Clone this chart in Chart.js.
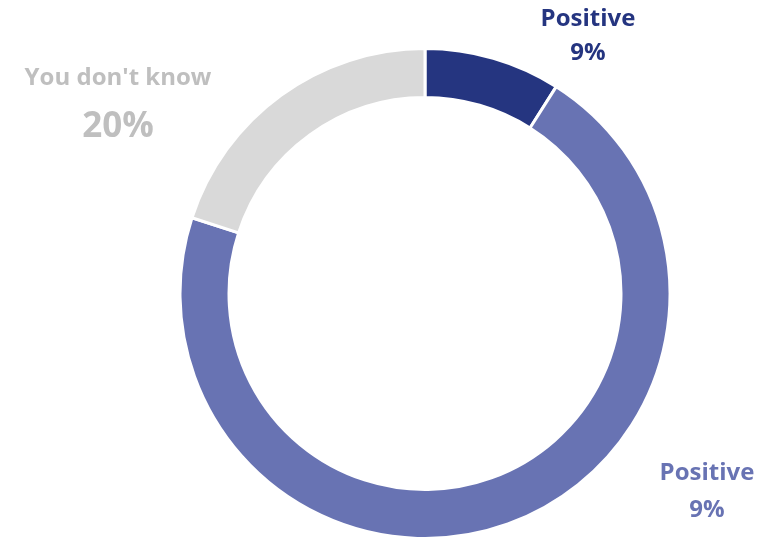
<!DOCTYPE html>
<html>
<head>
<meta charset="utf-8">
<script src="https://cdn.jsdelivr.net/npm/chart.js@4"></script>
<style>
  html, body { margin: 0; padding: 0; background: #fff; }
  #wrap { width: 768px; height: 541px; }
</style>
</head>
<body>
<div id="wrap"><canvas id="donut"></canvas></div>
<script>
const categories = ['Positive', 'Positive', "You don't know"];
const values = [9, 71, 20];
const shownLabels = ['9%', '9%', '20%'];
const colors = ['#253580', '#6873b3', '#d9d9d9'];
const textColors = ['#253580', '#6873b3', '#bfbfbf'];

// labels drawn next to each arc, offsets from chart centre
const labelPlugin = {
    id: 'sliceLabels',
    afterDatasetsDraw(chart) {
        const ctx = chart.ctx;
        const arcs = chart.getDatasetMeta(0).data;
        const cx = arcs[0].x, cy = arcs[0].y;
        const spots = [
            { dx: 163, dy: -274, big: 24, small: 24, gap: 34 },
            { dx: 282, dy: 180, big: 24, small: 24, gap: 37 },
            { dx: -307, dy: -215, big: 24, small: 35, gap: 49 }
        ];
        ctx.save();
        ctx.textAlign = 'center';
        ctx.textBaseline = 'middle';
        arcs.forEach((arc, i) => {
            const s = spots[i];
            ctx.fillStyle = textColors[i];
            ctx.font = 'bold ' + s.big + 'px "Open Sans", sans-serif';
            ctx.fillText(categories[i], cx + s.dx, cy + s.dy);
            ctx.font = 'bold ' + s.small + 'px "Open Sans", sans-serif';
            ctx.fillText(shownLabels[i], cx + s.dx, cy + s.dy + s.gap);
        });
        ctx.restore();
    }
};

new Chart(document.getElementById('donut'), {
    type: 'doughnut',
    data: {
        labels: categories,
        datasets: [{
            data: values,
            backgroundColor: colors,
            borderColor: '#ffffff',
            borderWidth: 3
        }]
    },
    options: {
        responsive: true,
        maintainAspectRatio: false,
        animation: false,
        cutout: '80%',
        layout: { padding: { top: 47, bottom: 1, left: 178, right: 96 } },
        plugins: {
            legend: { display: false },
            tooltip: { enabled: false }
        }
    },
    plugins: [labelPlugin]
});
</script>
</body>
</html>
